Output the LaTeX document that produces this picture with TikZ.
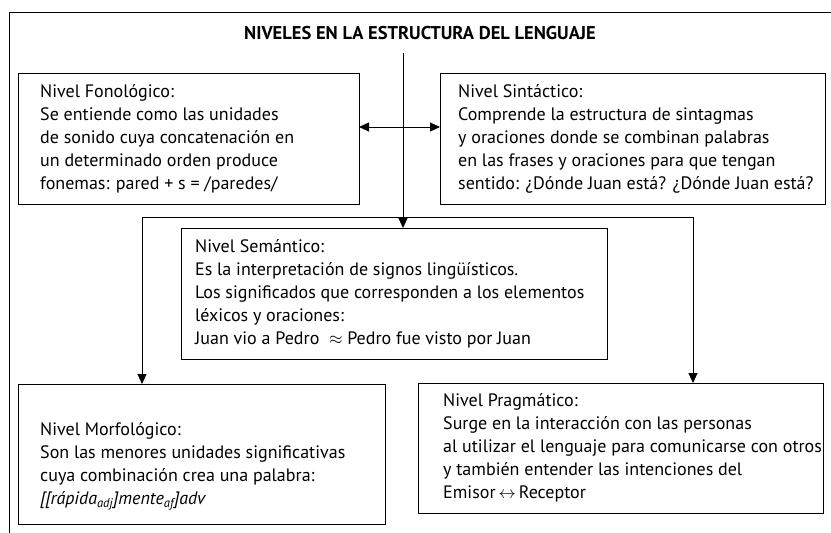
\documentclass[tikz,border=0pt]{standalone}
\usepackage{fontspec}
\setmainfont{PT Sans}
\usetikzlibrary{arrows.meta}
\begin{document}
\begin{tikzpicture}[x=1pt,y=-1pt,
  box/.style={draw=black,line width=0.9pt,rectangle,inner sep=0pt,outer sep=0pt,anchor=north west},
  txt/.style={align=left,inner sep=0pt,anchor=west,font=\fontsize{18}{23}\selectfont},
  line/.style={draw=black,line width=0.9pt},
  arr/.style={line,-{Triangle[length=10pt,width=9pt]}},
  darr/.style={line,{Triangle[length=10pt,width=9pt]}-{Triangle[length=10pt,width=9pt]}}]
\useasboundingbox (0,0) rectangle (831,533);
% frame
\draw[line] (831,12) -- (9,12) -- (9,533);
% title
\node[font=\fontsize{18.5}{20}\selectfont\bfseries,inner sep=0pt] (title) at (420,33) {NIVELES EN LA ESTRUCTURA DEL LENGUAJE};
% boxes
\node[box,minimum width=341pt,minimum height=131pt] (fono) at (18,73) {};
\node[box,minimum width=385pt,minimum height=131pt] (sint) at (440,73) {};
\node[box,minimum width=426pt,minimum height=131pt] (sem) at (181,228) {};
\node[box,minimum width=367pt,minimum height=140pt] (morf) at (18,384) {};
\node[box,minimum width=405pt,minimum height=130pt] (prag) at (418,383) {};
% texts
\node[txt] (fonot) at ([xshift=22pt]fono.west) {Nivel Fonológico:\\Se entiende como las unidades\\de sonido cuya concatenación en\\un determinado orden produce\\fonemas: pared + s = /paredes/};
\node[txt] (sintt) at ([xshift=18pt]sint.west) {Nivel Sintáctico:\\Comprende la estructura de sintagmas\\y oraciones donde se combinan palabras\\en las frases y oraciones para que tengan\\sentido: ¿Dónde Juan está? ¿Dónde Juan está?};
\node[txt] (semt) at ([xshift=14pt]sem.west) {Nivel Semántico:\\Es la interpretación de signos lingüísticos.\\Los significados que corresponden a los elementos\\léxicos y oraciones:\\Juan vio a Pedro ~$\approx$ Pedro fue visto por Juan};
\node[txt] (morft) at ([xshift=22pt,yshift=-12pt]morf.west) {Nivel Morfológico:\\Son las menores unidades significativas\\cuya combinación crea una palabra:\\\textit{[[rápida\textsubscript{adj}]mente\textsubscript{af}]adv}};
\node[txt] (pragt) at ([xshift=25pt]prag.west) {Nivel Pragmático:\\Surge en la interacción con las personas\\al utilizar el lenguaje para comunicarse con otros\\y también entender las intenciones del\\Emisor\,$\leftrightarrow$\,Receptor};
% connectors
\coordinate (top) at (403,53);
\coordinate (mid) at (403,127);
\coordinate (bl) at (142,217);
\coordinate (brr) at (693,217);
\draw[arr] (top) -- (top |- sem.north);
\draw[darr] (fono.east |- mid) -- (sint.west |- mid);
\draw[line] (bl) -- (brr);
\draw[arr] (bl) -- (bl |- morf.north);
\draw[arr] (brr) -- (brr |- prag.north);
\end{tikzpicture}
\end{document}
